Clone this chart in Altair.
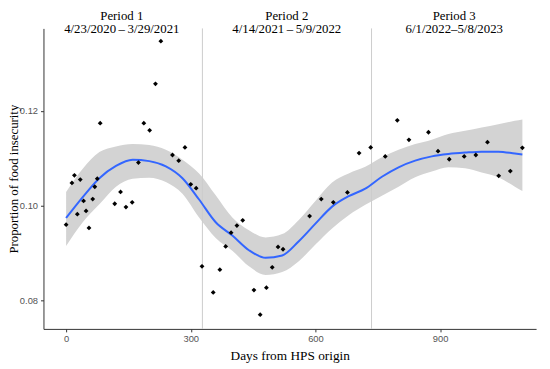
import altair as alt
import pandas as pd

# observed points
days = [0, 14, 20, 27, 34, 42, 48, 55, 64, 69, 75, 82, 117, 131, 144, 159, 174, 187, 201, 215,
        228, 256, 271, 286, 300, 313, 327, 354, 370, 384, 397, 411, 425, 452, 467, 482, 496, 510,
        522, 586, 614, 643, 677, 705, 733, 768, 797, 825, 872, 895, 922, 958, 986, 1014, 1041,
        1069, 1098]
prop = [0.0960, 0.1048, 0.1064, 0.0982, 0.1055, 0.1010, 0.0989, 0.0953, 0.1014, 0.1040, 0.1057,
        0.1174, 0.1004, 0.1029, 0.0997, 0.1007, 0.1091, 0.1174, 0.1159, 0.1257, 0.1347, 0.1107,
        0.1095, 0.1123, 0.1045, 0.1037, 0.0872, 0.0817, 0.0865, 0.0914, 0.0943, 0.0958, 0.0969,
        0.0822, 0.0770, 0.0827, 0.0870, 0.0913, 0.0908, 0.0978, 0.1014, 0.1007, 0.1028, 0.1111,
        0.1123, 0.1104, 0.1180, 0.1139, 0.1155, 0.1115, 0.1098, 0.1104, 0.1107, 0.1134, 0.1063,
        0.1073, 0.1122]

# smoothed fit and confidence band
s_days = [0, 40, 80, 120, 160, 200, 240, 280, 320, 360, 400, 440, 480, 520, 560, 600, 640, 680,
          720, 760, 800, 840, 880, 920, 960, 1000, 1040, 1080, 1098]
s_fit = [0.0974, 0.1018, 0.1058, 0.1084, 0.1097, 0.1094, 0.1083, 0.1058, 0.1013, 0.0965, 0.0937,
         0.0906, 0.0890, 0.0895, 0.0925, 0.0962, 0.0998, 0.1020, 0.1036, 0.1061, 0.1081, 0.1095,
         0.1104, 0.1109, 0.1112, 0.1114, 0.1114, 0.1110, 0.1108]
s_hi = [0.1029, 0.1078, 0.1113, 0.1125, 0.1130, 0.1128, 0.1118, 0.1097, 0.1068, 0.1022, 0.0975,
        0.0948, 0.0933, 0.0940, 0.0970, 0.1010, 0.1049, 0.1068, 0.1082, 0.1102, 0.1118, 0.1130,
        0.1139, 0.1151, 0.1158, 0.1165, 0.1172, 0.1179, 0.1182]
s_lo = [0.0915, 0.0965, 0.1003, 0.1040, 0.1057, 0.1059, 0.1050, 0.1025, 0.0975, 0.0932, 0.0905,
        0.0872, 0.0854, 0.0860, 0.0883, 0.0918, 0.0952, 0.0980, 0.1002, 0.1021, 0.1040, 0.1060,
        0.1072, 0.1081, 0.1079, 0.1070, 0.1060, 0.1040, 0.1031]

# period boundaries and labels
boundaries = [328, 735]
period_names = ["Period 1", "Period 2", "Period 3"]
period_dates = ["4/23/2020\u2009\u2013\u20093/29/2021", "4/14/2021\u2009\u2013\u20095/9/2022", "6/1/2022\u20135/8/2023"]
period_centers = [134, 531, 934]

x_ticks = [0, 300, 600, 900]
y_ticks = [0.08, 0.10, 0.12]

pts = pd.DataFrame({"day": days, "prop": prop})
smooth = pd.DataFrame({"day": s_days, "fit": s_fit, "hi": s_hi, "lo": s_lo})
bnd = pd.DataFrame({"day": boundaries})
per = pd.DataFrame({"day": period_centers, "name": period_names, "dates": period_dates})

serif = "Liberation Serif"
xscale = alt.Scale(domain=[-54.5, 1131], nice=False, zero=False)
yscale = alt.Scale(domain=[0.0740, 0.1374], nice=False, zero=False)

xaxis = alt.Axis(values=x_ticks, format="d", title="Days from HPS origin", grid=False,
                 domainColor="#333333", tickColor="#333333", tickSize=3, labelPadding=2,
                 labelColor="#555555", labelFont="Liberation Sans", labelFontSize=9.5,
                 titleFont=serif, titleFontSize=13.5, titleFontWeight="normal",
                 titleColor="black", titlePadding=6)
yaxis = alt.Axis(values=y_ticks, format=".2f", title="Proportion of food insecurity", grid=False,
                 domainColor="#333333", tickColor="#333333", tickSize=3, labelPadding=3,
                 labelColor="#555555", labelFont="Liberation Sans", labelFontSize=9.5,
                 titleFont=serif, titleFontSize=13, titleFontWeight="normal",
                 titleColor="black", titleX=-26, titleBaseline="alphabetic")

band = alt.Chart(smooth).mark_area(color="#d3d3d3", opacity=1, interpolate="monotone").encode(
    x=alt.X("day:Q", scale=xscale, axis=xaxis),
    y=alt.Y("lo:Q", scale=yscale, axis=yaxis),
    y2="hi:Q",
)

vlines = alt.Chart(bnd).mark_rule(color="#cccccc", strokeWidth=1).encode(
    x=alt.X("day:Q", scale=xscale),
    y=alt.value(0),
    y2=alt.value(305),
)

line = alt.Chart(smooth).mark_line(color="#3366FF", strokeWidth=2, interpolate="monotone").encode(
    x=alt.X("day:Q", scale=xscale),
    y=alt.Y("fit:Q", scale=yscale),
)

points = alt.Chart(pts).mark_point(shape="diamond", filled=True, color="black", size=24, opacity=1).encode(
    x=alt.X("day:Q", scale=xscale),
    y=alt.Y("prop:Q", scale=yscale),
)

t1 = alt.Chart(per).mark_text(font=serif, fontSize=13, color="black", baseline="middle").encode(
    x=alt.X("day:Q", scale=xscale),
    y=alt.value(-13),
    text="name:N",
)
t2 = alt.Chart(per).mark_text(font=serif, fontSize=13, color="black", baseline="middle").encode(
    x=alt.X("day:Q", scale=xscale),
    y=alt.value(1),
    text="dates:N",
)

chart = alt.layer(band, vlines, line, points, t1, t2).properties(
    width=500,
    height=305,
    autosize="none",
    padding={"left": 36, "top": 18, "right": 6, "bottom": 40},
).configure_view(stroke=None).configure_axis(domainWidth=1)

chart.save("out.html", embed_options={"renderer": "svg", "actions": False})
